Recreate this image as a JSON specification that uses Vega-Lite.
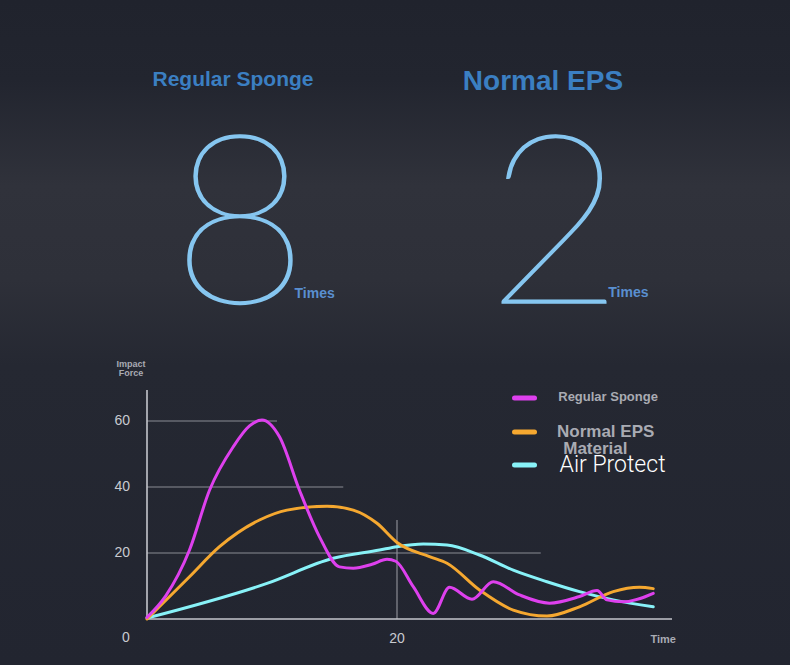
{
  "$schema": "https://vega.github.io/schema/vega-lite/v6.json",
  "autosize": {"type": "fit", "contains": "padding"},
  "width": 790,
  "height": 665,
  "padding": 0,
  "background": "#222530",
  "config": {"view": {"stroke": null}},
  "encoding": {
    "x": {"field": "x", "type": "quantitative", "scale": {"domain": [-11.76, 51.44], "nice": false, "zero": false}, "axis": null},
    "y": {"field": "y", "type": "quantitative", "scale": {"domain": [-13.94, 187.58], "nice": false, "zero": false}, "axis": null}
  },
  "layer": [
    {
      "data": {"values": [{"x": -11.76, "x2": 51.44, "y": -13.94, "y2": 187.58}]},
      "mark": {"type": "rect", "color": {"gradient": "linear", "x1": 0, "y1": 0, "x2": 0, "y2": 1, "stops": [
        {"offset": 0, "color": "#20232d"},
        {"offset": 0.12, "color": "#22252f"},
        {"offset": 0.28, "color": "#30323b"},
        {"offset": 0.42, "color": "#2e3039"},
        {"offset": 0.55, "color": "#252832"},
        {"offset": 1, "color": "#222530"}
      ]}},
      "encoding": {"x2": {"field": "x2"}, "y2": {"field": "y2"}}
    },
    {
      "data": {"values": [
        {"x": 0, "x2": 10.4, "y": 60, "y2": 60},
        {"x": 0, "x2": 15.7, "y": 40, "y2": 40},
        {"x": 0, "x2": 31.5, "y": 20, "y2": 20},
        {"x": 20, "x2": 20, "y": 0, "y2": 30}
      ]},
      "mark": {"type": "rule", "color": "#8a8c94", "strokeWidth": 1.2},
      "encoding": {"x2": {"field": "x2"}, "y2": {"field": "y2"}}
    },
    {
      "data": {"values": [
        {"x": 0, "x2": 0, "y": 0, "y2": 69.4},
        {"x": 0, "x2": 42, "y": 0, "y2": 0}
      ]},
      "mark": {"type": "rule", "color": "#c4c6cc", "strokeWidth": 1.6},
      "encoding": {"x2": {"field": "x2"}, "y2": {"field": "y2"}}
    },
    {
      "data": {"values": [
        {"series": "Air Protect", "x": 0, "y": 0.3},
        {"series": "Air Protect", "x": 9.6, "y": 10.8},
        {"series": "Air Protect", "x": 14.9, "y": 18.4},
        {"series": "Air Protect", "x": 18.6, "y": 20.9},
        {"series": "Air Protect", "x": 20, "y": 21.9},
        {"series": "Air Protect", "x": 22.1, "y": 22.7},
        {"series": "Air Protect", "x": 24, "y": 22.4},
        {"series": "Air Protect", "x": 26.6, "y": 19.4},
        {"series": "Air Protect", "x": 29.3, "y": 14.8},
        {"series": "Air Protect", "x": 32, "y": 11.3},
        {"series": "Air Protect", "x": 34.6, "y": 8.3},
        {"series": "Air Protect", "x": 37.3, "y": 5.8},
        {"series": "Air Protect", "x": 40.5, "y": 3.7},
        {"series": "Normal EPS Material", "x": 0, "y": 0},
        {"series": "Normal EPS Material", "x": 3.4, "y": 12.8},
        {"series": "Normal EPS Material", "x": 5.8, "y": 21.9},
        {"series": "Normal EPS Material", "x": 9, "y": 30},
        {"series": "Normal EPS Material", "x": 11.2, "y": 33},
        {"series": "Normal EPS Material", "x": 14.4, "y": 34.2},
        {"series": "Normal EPS Material", "x": 16.5, "y": 33},
        {"series": "Normal EPS Material", "x": 18.4, "y": 29},
        {"series": "Normal EPS Material", "x": 20, "y": 23.2},
        {"series": "Normal EPS Material", "x": 22.6, "y": 18.9},
        {"series": "Normal EPS Material", "x": 24, "y": 16.9},
        {"series": "Normal EPS Material", "x": 26.6, "y": 8.8},
        {"series": "Normal EPS Material", "x": 29.3, "y": 2.7},
        {"series": "Normal EPS Material", "x": 32, "y": 0.9},
        {"series": "Normal EPS Material", "x": 34.6, "y": 3.7},
        {"series": "Normal EPS Material", "x": 37.3, "y": 8.3},
        {"series": "Normal EPS Material", "x": 39.4, "y": 9.6},
        {"series": "Normal EPS Material", "x": 40.5, "y": 9.2},
        {"series": "Regular Sponge", "x": 0, "y": 0.5},
        {"series": "Regular Sponge", "x": 1.5, "y": 7},
        {"series": "Regular Sponge", "x": 3.4, "y": 20.9},
        {"series": "Regular Sponge", "x": 5, "y": 39},
        {"series": "Regular Sponge", "x": 6.9, "y": 52.2},
        {"series": "Regular Sponge", "x": 8.2, "y": 58.5},
        {"series": "Regular Sponge", "x": 9.2, "y": 60.3},
        {"series": "Regular Sponge", "x": 10.6, "y": 55.2},
        {"series": "Regular Sponge", "x": 12.2, "y": 39},
        {"series": "Regular Sponge", "x": 13.8, "y": 24.9},
        {"series": "Regular Sponge", "x": 15.4, "y": 15.8},
        {"series": "Regular Sponge", "x": 16.5, "y": 15.4},
        {"series": "Regular Sponge", "x": 18, "y": 16.6},
        {"series": "Regular Sponge", "x": 19.2, "y": 18.1},
        {"series": "Regular Sponge", "x": 19.9, "y": 17.5},
        {"series": "Regular Sponge", "x": 21.3, "y": 9.8},
        {"series": "Regular Sponge", "x": 22.9, "y": 1.7},
        {"series": "Regular Sponge", "x": 24.2, "y": 9.6},
        {"series": "Regular Sponge", "x": 26, "y": 6},
        {"series": "Regular Sponge", "x": 27.7, "y": 11.3},
        {"series": "Regular Sponge", "x": 29.8, "y": 7.3},
        {"series": "Regular Sponge", "x": 32.2, "y": 4.8},
        {"series": "Regular Sponge", "x": 34.6, "y": 6.8},
        {"series": "Regular Sponge", "x": 36, "y": 8.6},
        {"series": "Regular Sponge", "x": 36.8, "y": 5.8},
        {"series": "Regular Sponge", "x": 38.1, "y": 5.2},
        {"series": "Regular Sponge", "x": 40.5, "y": 7.8}
      ]},
      "mark": {"type": "line", "interpolate": "monotone", "strokeWidth": 3, "strokeCap": "round"},
      "encoding": {
        "color": {"field": "series", "type": "nominal", "legend": null,
          "scale": {"domain": ["Regular Sponge", "Normal EPS Material", "Air Protect"], "range": ["#de40ee", "#f5a830", "#88f2f8"]}},
        "order": {"field": "series"}
      }
    },
    {
      "data": {"values": [
        {"series": "Regular Sponge", "x": 29.4, "x2": 31.0, "y": 66.97},
        {"series": "Normal EPS Material", "x": 29.4, "x2": 31.0, "y": 56.67},
        {"series": "Air Protect", "x": 29.4, "x2": 31.0, "y": 46.67}
      ]},
      "mark": {"type": "rule", "strokeWidth": 5, "strokeCap": "round"},
      "encoding": {
        "x2": {"field": "x2"},
        "color": {"field": "series", "type": "nominal", "legend": null,
          "scale": {"domain": ["Regular Sponge", "Normal EPS Material", "Air Protect"], "range": ["#de40ee", "#f5a830", "#88f2f8"]}}
      }
    },
    {
      "data": {"values": [
        {"x": 32.9, "y": 67.3, "label": "Regular Sponge", "size": 13},
        {"x": 32.8, "y": 56.7, "label": "Normal EPS", "size": 17},
        {"x": 33.3, "y": 51.5, "label": "Material", "size": 17}
      ]},
      "mark": {"type": "text", "align": "left", "baseline": "middle", "font": "Liberation Sans", "fontWeight": "bold", "color": "#a9abb3"},
      "encoding": {"text": {"field": "label"}, "size": {"field": "size", "type": "quantitative", "scale": null}}
    },
    {
      "data": {"values": [{"x": 33.0, "y": 46.7, "label": "Air Protect"}]},
      "mark": {"type": "text", "align": "left", "baseline": "middle", "font": "Roboto", "fontWeight": 300, "fontSize": 23, "color": "#ffffff"},
      "encoding": {"text": {"field": "label"}}
    },
    {
      "data": {"values": [
        {"x": -1.36, "y": 60, "label": "60"},
        {"x": -1.36, "y": 40, "label": "40"},
        {"x": -1.36, "y": 20, "label": "20"}
      ]},
      "mark": {"type": "text", "align": "right", "baseline": "middle", "font": "Liberation Sans", "fontSize": 14, "color": "#c8cad0"},
      "encoding": {"text": {"field": "label"}}
    },
    {
      "data": {"values": [
        {"x": -1.68, "y": -5.9, "label": "0"},
        {"x": 20, "y": -6.1, "label": "20"}
      ]},
      "mark": {"type": "text", "align": "center", "baseline": "middle", "font": "Liberation Sans", "fontSize": 14, "color": "#c8cad0"},
      "encoding": {"text": {"field": "label"}}
    },
    {
      "data": {"values": [
        {"x": 41.3, "y": -6.4, "label": "Time", "size": 11},
        {"x": -1.28, "y": 77.4, "label": "Impact", "size": 9},
        {"x": -1.28, "y": 74.6, "label": "Force", "size": 9}
      ]},
      "mark": {"type": "text", "align": "center", "baseline": "middle", "font": "Liberation Sans", "fontWeight": "bold", "color": "#a9abb3"},
      "encoding": {"text": {"field": "label"}, "size": {"field": "size", "type": "quantitative", "scale": null}}
    },
    {
      "data": {"values": [
        {"x": 6.88, "y": 163.3, "label": "Regular Sponge", "size": 21},
        {"x": 31.68, "y": 162.7, "label": "Normal EPS", "size": 28}
      ]},
      "mark": {"type": "text", "align": "center", "baseline": "middle", "font": "Liberation Sans", "fontWeight": "bold", "color": "#3b7fc2"},
      "encoding": {"text": {"field": "label"}, "size": {"field": "size", "type": "quantitative", "scale": null}}
    },
    {
      "data": {"values": [
        {"x": 7.44, "y": 95.8, "label": "8"},
        {"x": 32.64, "y": 95.8, "label": "2"}
      ]},
      "mark": {"type": "text", "align": "center", "baseline": "alphabetic", "font": "Lato", "fontWeight": 100, "fontSize": 236, "color": "#86c6f0", "stroke": "#86c6f0", "strokeWidth": 1.6},
      "encoding": {"text": {"field": "label"}}
    },
    {
      "data": {"values": [
        {"x": 11.8, "y": 98.5, "label": "Times"},
        {"x": 36.9, "y": 98.8, "label": "Times"}
      ]},
      "mark": {"type": "text", "align": "left", "baseline": "middle", "font": "Liberation Sans", "fontWeight": "bold", "fontSize": 14, "color": "#5a8fd0"},
      "encoding": {"text": {"field": "label"}}
    }
  ]
}
